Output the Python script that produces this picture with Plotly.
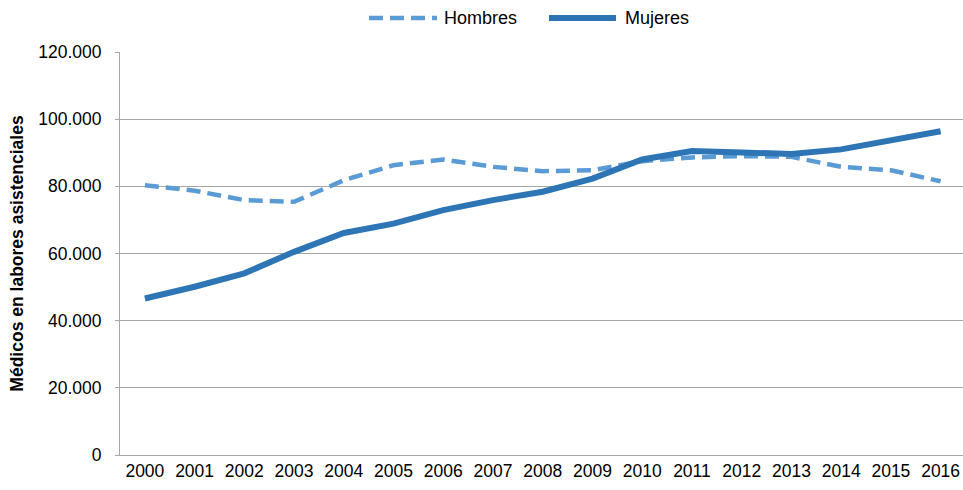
import plotly.graph_objects as go

years = [str(y) for y in range(2000, 2017)]
hombres = [80300, 78700, 75900, 75400, 81800, 86300, 88000, 85800, 84500, 84800,
           87500, 88600, 89000, 88800, 85800, 84800, 81500]
mujeres = [46600, 50100, 54100, 60500, 66100, 68900, 72900, 75900, 78400, 82300,
           88000, 90500, 90100, 89600, 91000, 93700, 96400]
y_ticks = [0, 20000, 40000, 60000, 80000, 100000, 120000]
y_labels = ["0", "20.000", "40.000", "60.000", "80.000", "100.000", "120.000"]

C_H = "#5B9BD5"
C_M = "#2E75B6"
DASH = "14px,7px"

FIG_W, FIG_H = 963, 490
L, T, B = 120, 52, 35
PW = FIG_W - L
PH = FIG_H - T - B

fig = go.Figure()
fig.add_trace(go.Scatter(x=list(range(len(years))), y=hombres, mode="lines", name="Hombres",
                         line=dict(color=C_H, width=4.5, dash=DASH), showlegend=False))
fig.add_trace(go.Scatter(x=list(range(len(years))), y=mujeres, mode="lines", name="Mujeres",
                         line=dict(color=C_M, width=6), showlegend=False))

# custom legend (long line samples like the reference); pixel coords -> paper
def px(x):
    return (x - L) / PW
def py(y):
    return (FIG_H - B - y) / PH
ly = py(18)
fig.add_shape(type="line", xref="paper", yref="paper", x0=px(369), x1=px(437), y0=ly, y1=ly,
              line=dict(color=C_H, width=4.5, dash=DASH))
fig.add_shape(type="line", xref="paper", yref="paper", x0=px(549), x1=px(616), y0=ly, y1=ly,
              line=dict(color=C_M, width=6))
fig.add_annotation(xref="paper", yref="paper", x=px(442), y=ly, text="Hombres", showarrow=False,
                   xanchor="left", yanchor="middle", font=dict(size=18))
fig.add_annotation(xref="paper", yref="paper", x=px(623), y=ly, text="Mujeres", showarrow=False,
                   xanchor="left", yanchor="middle", font=dict(size=18))

font = "Liberation Sans, Arial, sans-serif"
fig.update_layout(
    width=FIG_W, height=FIG_H,
    margin=dict(l=L, r=0, t=T, b=B),
    paper_bgcolor="white", plot_bgcolor="white",
    font=dict(family=font, size=17.5, color="#000000"),
    showlegend=False,
    xaxis=dict(tickmode="array", tickvals=list(range(len(years))), ticktext=years,
               range=[-0.5, 16.45], showgrid=False, showline=True, linecolor="#A6A6A6",
               linewidth=1, ticks="", zeroline=False, tickfont=dict(size=17.5),
               automargin=False),
    yaxis=dict(tickmode="array", tickvals=y_ticks, ticktext=y_labels, range=[0, 120000],
               showgrid=True, gridcolor="#A6A6A6", gridwidth=1, showline=True,
               linecolor="#A6A6A6", linewidth=1, ticks="outside", ticklen=4,
               tickcolor="#A6A6A6", zeroline=False, tickfont=dict(size=17.5),
               ticklabelstandoff=10, automargin=False,
               title=dict(text="<b>Médicos en labores asistenciales</b>",
                          font=dict(size=17.5), standoff=10)),
)
fig.write_html("out.html", config={"displayModeBar": False},
               post_script="document.body.style.margin='0';document.body.style.overflow='hidden';")
